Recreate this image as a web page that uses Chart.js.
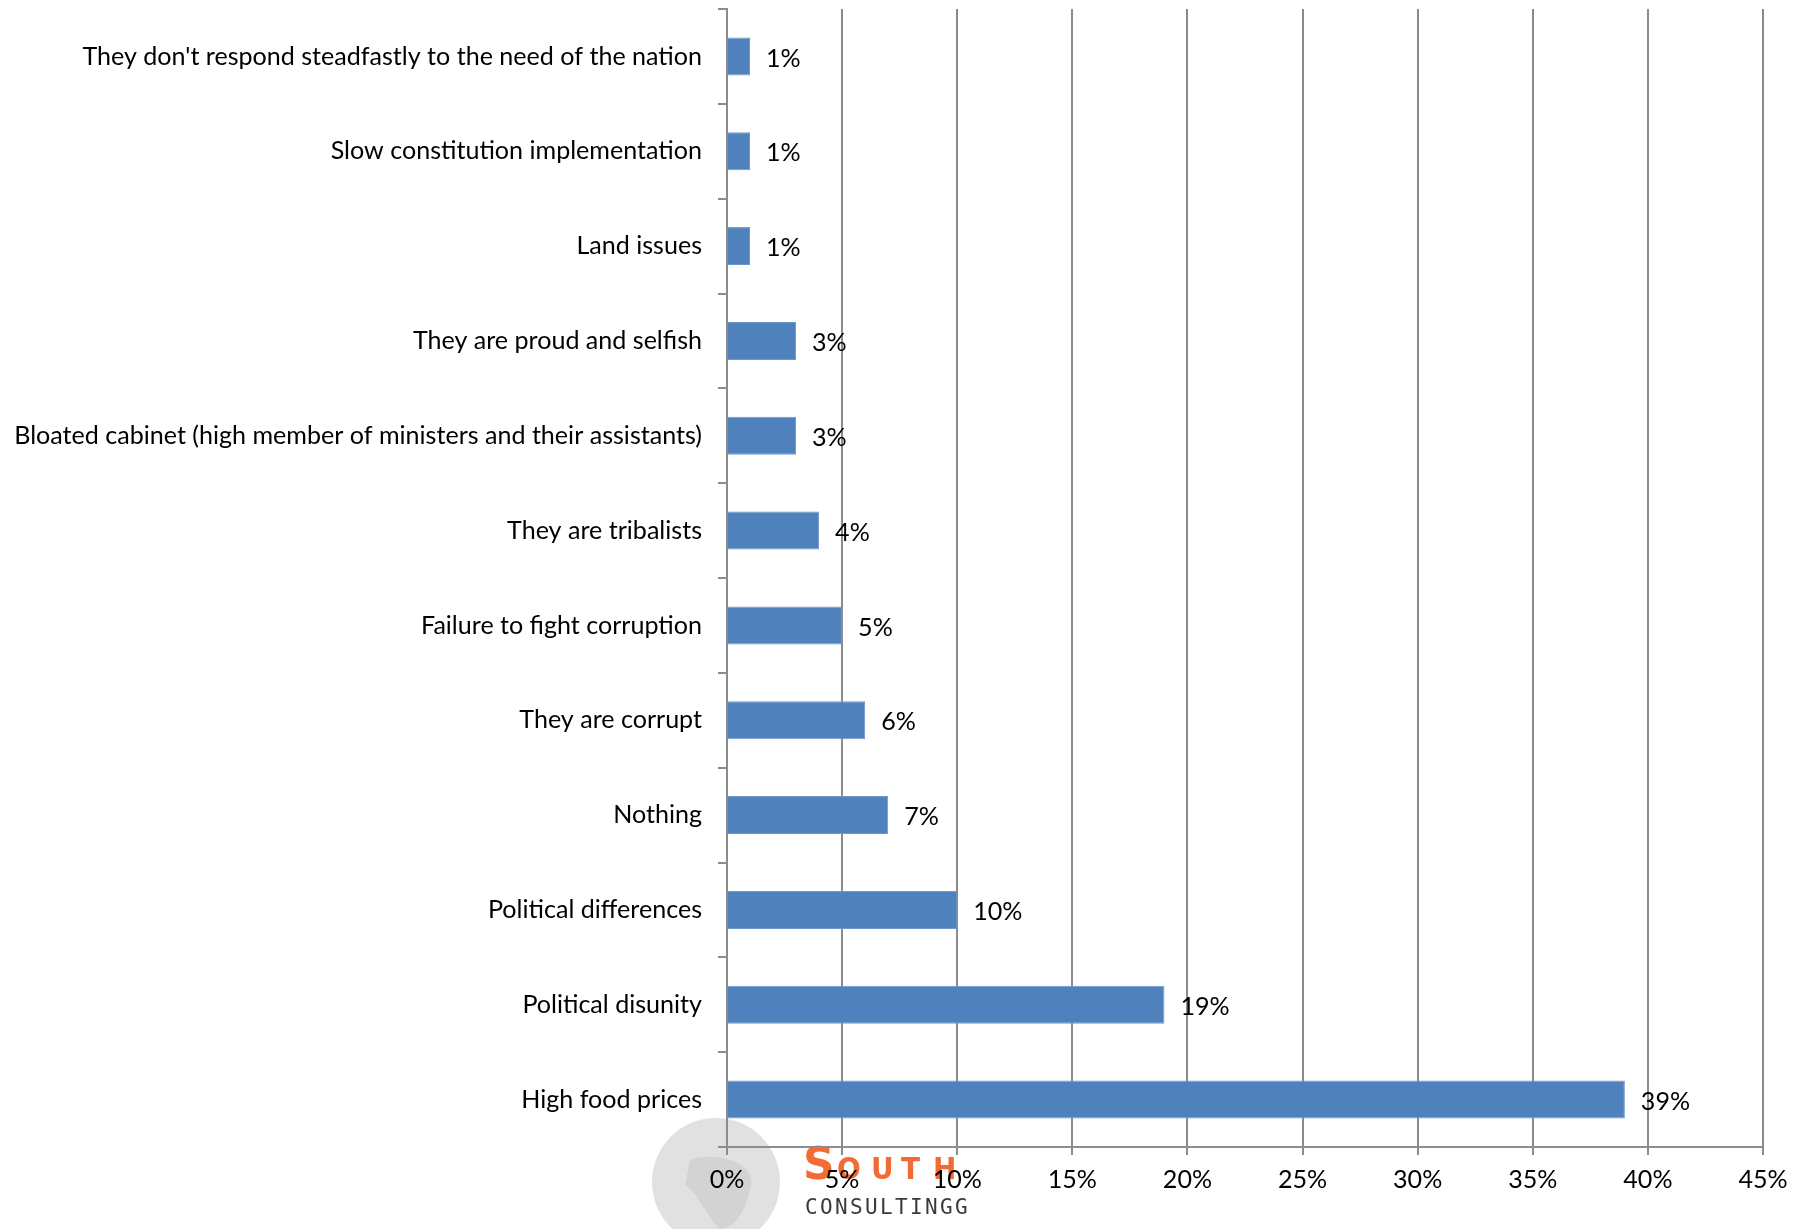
<!DOCTYPE html>
<html>
<head>
<meta charset="utf-8">
<script src="https://cdn.jsdelivr.net/npm/chart.js@4/dist/chart.umd.min.js"></script>
<style>
html,body{margin:0;padding:0;background:#fff;}
#wrap{width:1807px;height:1229px;position:relative;}
</style>
</head>
<body>
<div id="wrap"><canvas id="c" width="1807" height="1229"></canvas></div>
<script>
const categories = [
  "They don't respond steadfastly to the need of the nation",
  "Slow constitution implementation",
  "Land issues",
  "They are proud and selfish",
  "Bloated cabinet (high member of ministers and their assistants)",
  "They are tribalists",
  "Failure to fight corruption",
  "They are corrupt",
  "Nothing",
  "Political differences",
  "Political disunity",
  "High food prices"
];
const values = [1, 1, 1, 3, 3, 4, 5, 6, 7, 10, 19, 39];
const xTicks = [0, 5, 10, 15, 20, 25, 30, 35, 40, 45];
const logoTitle = "SOUTH";
const logoSub = "CONSULTINGG";

const FONT = "Lato, 'Liberation Sans', sans-serif";
// size the font so the first label matches the reference width
const mctx = document.createElement('canvas').getContext('2d');
mctx.font = "100px " + FONT;
const w100 = mctx.measureText(categories[0]).width;
const FS = Math.max(18, Math.min(30, 100 * 620 / w100));
const GRID = '#8c8c8c';

const valueLabels = {
  id: 'valueLabels',
  afterDatasetsDraw(chart) {
    const ctx = chart.ctx;
    const meta = chart.getDatasetMeta(0);
    ctx.save();
    ctx.font = FS + 'px ' + FONT;
    ctx.fillStyle = '#000';
    ctx.textAlign = 'left';
    ctx.textBaseline = 'middle';
    meta.data.forEach((bar, i) => {
      ctx.fillText(values[i] + '%', bar.x + 16, bar.y + 2);
    });
    ctx.restore();
  }
};

const logo = {
  id: 'logo',
  beforeDraw(chart) {
    const ctx = chart.ctx;
    ctx.save();
    ctx.fillStyle = '#fff';
    ctx.fillRect(0, 0, chart.width, chart.height);
    // globe watermark
    ctx.beginPath();
    ctx.arc(716, 1182, 64, 0, Math.PI * 2);
    ctx.fillStyle = 'rgba(220,220,220,0.85)';
    ctx.fill();
    ctx.beginPath();
    ctx.moveTo(690, 1160);
    ctx.bezierCurveTo(720, 1150, 760, 1165, 750, 1190);
    ctx.bezierCurveTo(745, 1210, 735, 1229, 720, 1229);
    ctx.bezierCurveTo(705, 1215, 700, 1195, 685, 1185);
    ctx.closePath();
    ctx.fillStyle = 'rgba(200,200,200,0.55)';
    ctx.fill();
    // text
    ctx.textBaseline = 'alphabetic';
    ctx.textAlign = 'left';
    ctx.fillStyle = '#f26a34';
    ctx.font = "bold 44px 'DejaVu Sans', sans-serif";
    ctx.fillText(logoTitle[0], 803, 1179);
    ctx.font = "bold 31px 'DejaVu Sans Condensed', 'DejaVu Sans', sans-serif";
    const xs = [837, 871, 901, 933];
    logoTitle.slice(1).split('').forEach((ch, i) => ctx.fillText(ch, xs[i], 1179));
    ctx.fillStyle = '#3a3a3a';
    ctx.font = "21px 'DejaVu Sans Mono', 'Liberation Mono', monospace";
    let x2 = 805;
    logoSub.split('').forEach(ch => { ctx.fillText(ch, x2, 1214); x2 += 15; });
    ctx.restore();
  }
};

new Chart(document.getElementById('c'), {
  type: 'bar',
  data: {
    labels: categories,
    datasets: [{
      data: values,
      backgroundColor: '#4f81bd',
      borderColor: '#6f99cc',
      borderWidth: 1,
      categoryPercentage: 1.0,
      barPercentage: 0.4
    }]
  },
  options: {
    indexAxis: 'y',
    responsive: false,
    animation: false,
    devicePixelRatio: 1,
    layout: { padding: { top: 9, right: 44, left: 0, bottom: 0 } },
    plugins: { legend: { display: false }, tooltip: { enabled: false } },
    scales: {
      x: {
        min: 0, max: 45,
        afterBuildTicks(scale) { scale.ticks = xTicks.map(v => ({ value: v })); },
        afterFit(scale) { scale.height = 82; scale.paddingLeft = 0; scale.paddingRight = 0; },
        grid: { color: GRID, lineWidth: 2, tickLength: 8, drawTicks: true },
        border: { color: GRID, width: 2 },
        ticks: {
          color: '#000', padding: 10,
          font: { family: FONT, size: FS },
          callback: v => v + '%'
        }
      },
      y: {
        afterFit(scale) { scale.width = 727; scale.paddingTop = 0; scale.paddingBottom = 0; },
        grid: { color: GRID, lineWidth: 2, tickLength: 9, drawOnChartArea: false, drawTicks: true, offset: true },
        border: { color: GRID, width: 2 },
        ticks: {
          color: '#000', padding: 16, autoSkip: false,
          font: { family: FONT, size: FS }
        }
      }
    }
  },
  plugins: [logo, valueLabels]
});
</script>
</body>
</html>
